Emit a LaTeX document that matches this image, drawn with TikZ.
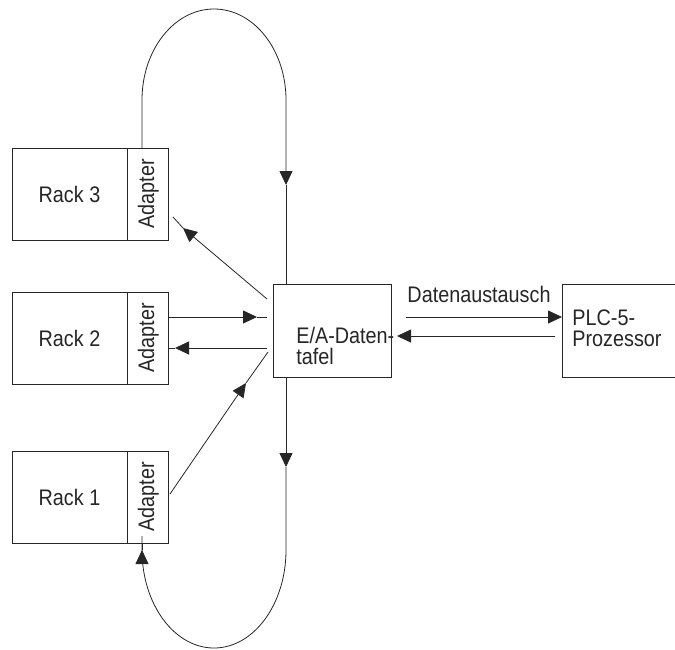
\documentclass[tikz,border=0pt]{standalone}
\usepackage{fontspec}
\setmainfont[FakeStretch=0.88]{Liberation Sans}
\usepackage{graphicx}
\usetikzlibrary{arrows.meta}
\begin{document}
\begin{tikzpicture}[x=1pt,y=-1pt,
  line width=0.8pt, draw=black!85,
  every node/.style={font=\fontsize{22.5}{22.5}\selectfont, text=black!85},
  box/.style={draw, rectangle, inner sep=0pt, minimum height=92pt},
  txt/.style={inner sep=0pt},
  tip/.style={-{Triangle[length=14pt,width=13pt]}}]
\useasboundingbox (0,0) rectangle (675,649);
% racks
\node[box, minimum width=115pt] (r3) at (69.5,194) {Rack 3};
\node[box, minimum width=41pt, anchor=west] (a3) at (r3.east) {\rotatebox{90}{Adapter}};
\node[box, minimum width=115pt] (r2) at (69.5,338) {Rack 2};
\node[box, minimum width=41pt, anchor=west] (a2) at (r2.east) {\rotatebox{90}{Adapter}};
\node[box, minimum width=115pt] (r1) at (69.5,497) {Rack 1};
\node[box, minimum width=41pt, anchor=west] (a1) at (r1.east) {\rotatebox{90}{Adapter}};
% E/A table
\node[box, minimum width=118pt, minimum height=93pt] (ea) at (332,330.5) {};
\node[txt, anchor=base west] (ea1) at (296,343) {E/A-Daten-};
\node[txt, anchor=base west] (ea2) at (296,364) {tafel};
% PLC
\node[box, minimum width=130pt, minimum height=93pt, anchor=west] (plc) at (562,330.5) {};
\node[txt, anchor=base west] (plc1) at (572,325) {PLC-5-};
\node[txt, anchor=base west] (plc2) at (572,346) {Prozessor};
\node[txt] (dx) at (479,294) {Datenaustausch};
% coordinates
\coordinate (t3) at (142,148);
\coordinate (tA) at (286,185);
\coordinate (tB) at (286,467);
\coordinate (tC) at (142,550);
\coordinate (b1) at (142,543);
% top loop
\draw[tip] (t3) -- (142,100) arc[start angle=180, end angle=0, x radius=72pt, y radius=91pt] -- (tA);
\draw (tA) -- (ea.north -| tA);
% bottom loop
\draw[tip] (ea.south -| tB) -- (tB);
\draw[tip] (tB) -- (286,550) arc[start angle=0, end angle=-180, x radius=72pt, y radius=98pt] -- (tC);
\draw (tC) -- (b1);
% rack 3 diagonal
\coordinate (d3s) at (267,299);
\coordinate (d3t) at (183,228);
\coordinate (d3e) at (173,217);
\draw[tip] (d3s) -- (d3t);
\draw (d3t) -- (d3e);
% rack 2 arrows
\coordinate (r2a) at (257,317);
\coordinate (r2ae) at (267,317);
\draw[tip] (a2.east |- r2a) -- (r2a);
\draw (r2a) -- (r2ae);
\coordinate (r2b) at (267,348);
\coordinate (r2bt) at (175,348);
\draw[tip] (r2b) -- (r2bt);
\draw (r2bt) -- (a2.east |- r2bt);
% rack 1 diagonal
\coordinate (d1s) at (170,494);
\coordinate (d1t) at (246,383);
\coordinate (d1e) at (268,352);
\draw[tip] (d1s) -- (d1t);
\draw (d1t) -- (d1e);
% data exchange
\draw[tip] (406,317) -- (plc.west |- 0,317);
\draw[tip] (555,336) -- (397,336);
\end{tikzpicture}
\end{document}
